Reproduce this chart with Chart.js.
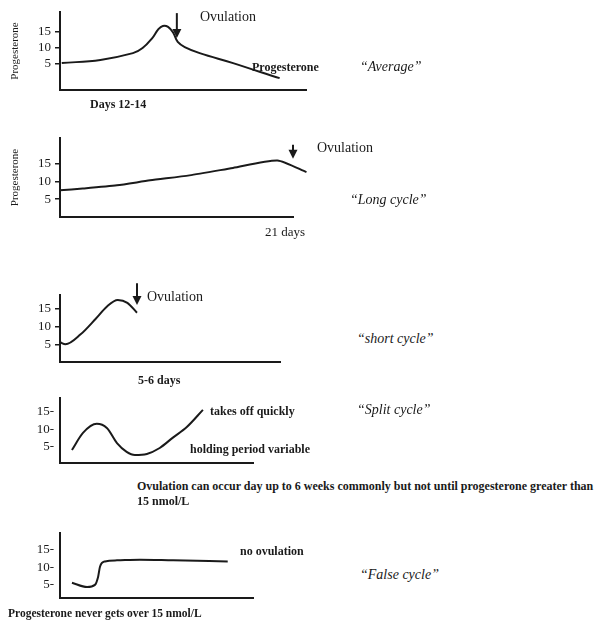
<!DOCTYPE html>
<html>
<head>
<meta charset="utf-8">
<script src="https://cdn.jsdelivr.net/npm/chart.js@4"></script>
<style>
  html,body{margin:0;padding:0;background:#fff;}
  #wrap{position:relative;width:600px;height:621px;overflow:hidden;background:#fff;}
  canvas{position:absolute;left:0;}
  .t{position:absolute;white-space:nowrap;line-height:1;color:#1a1a1a;font-family:'Liberation Serif','Times New Roman',serif;}
</style>
</head>
<body>
<div id="wrap"></div>
<script>
// ---------- DATA (days vs progesterone, nmol/L) ----------
const yTicks = [5, 10, 15];

// Panel 1: "Average"
const avgDays = [0.2, 4.6, 8.3, 9.4, 10.5, 11.2, 11.7, 12.3, 12.9, 13.4, 14.2, 15.9, 19.7, 22.8, 25.0];
const avgProg = [5.3, 6.3, 8.4, 10.0, 13.1, 15.9, 16.9, 16.6, 14.7, 11.9, 10.3, 8.4, 5.3, 2.5, 0.6];
const avgOvulationDay = 13.3;

// Panel 2: "Long cycle"
const longDays = [0, 2.2, 5.5, 8.7, 12.5, 16.7, 21.0, 23.8];
const longProg = [7.5, 8.0, 8.9, 10.3, 11.7, 13.8, 15.9, 12.6];
const longOvulationDay = 22.5;

// Panel 3: "short cycle"
const shortDays = [0, 0.4, 1.5, 2.6, 3.4, 4.2, 4.9, 5.6];
const shortProg = [5.6, 5.0, 7.8, 12.2, 15.6, 17.5, 16.7, 13.9];
const shortOvulationDay = 5.6;

// Panel 4: "Split cycle"
const splitDays = [2.6, 5.0, 8.0, 10.2, 12.4, 14.5, 16.3, 18.9, 21.7, 24.5, 27.6, 31.1];
const splitProg = [4.1, 9.0, 11.6, 10.4, 6.1, 3.6, 2.7, 3.0, 4.7, 7.6, 10.7, 15.6];

// Panel 5: "False cycle"
const falseDays = [2.6, 5.9, 7.6, 8.3, 8.7, 9.8, 12.4, 17.4, 24.6, 36.5];
const falseProg = [5.6, 4.4, 5.0, 7.3, 10.1, 11.6, 11.9, 12.1, 11.9, 11.6];

// ---------- rendering ----------
const INK = '#1a1a1a';
const FONT = "'Liberation Serif', 'Times New Roman', serif";

const arrowPlugin = {
  id: 'ovArrow',
  afterDatasetsDraw(chart, args, opts) {
    if (!opts || opts.x === undefined) return;
    const {ctx, scales: {x, y}} = chart;
    const px = x.getPixelForValue(opts.x);
    const yTop = y.getPixelForValue(opts.from);
    const yTip = y.getPixelForValue(opts.to);
    const headLen = 9, headHalf = 4.5;
    ctx.save();
    ctx.strokeStyle = INK; ctx.fillStyle = INK; ctx.lineWidth = 2;
    ctx.beginPath(); ctx.moveTo(px, yTop); ctx.lineTo(px, yTip - headLen + 1); ctx.stroke();
    ctx.beginPath(); ctx.moveTo(px - headHalf, yTip - headLen); ctx.lineTo(px + headHalf, yTip - headLen); ctx.lineTo(px, yTip); ctx.closePath(); ctx.fill();
    ctx.restore();
  }
};

function makePanel(cfg) {
  const c = document.createElement('canvas');
  c.width = cfg.w; c.height = cfg.h;
  c.style.top = cfg.top + 'px';
  document.getElementById('wrap').appendChild(c);
  const pts = cfg.xs.map((d, i) => ({x: d, y: cfg.ys[i]}));
  new Chart(c, {
    type: 'line',
    data: {datasets: [{data: pts, borderColor: INK, borderWidth: 2, pointRadius: 0,
      fill: false, clip: false, tension: cfg.tension, cubicInterpolationMode: cfg.mono ? 'monotone' : 'default'}]},
    options: {
      responsive: false, animation: false, devicePixelRatio: 1,
      layout: {padding: {top: cfg.padTop, bottom: cfg.padBottom, right: cfg.padRight, left: 0}},
      plugins: {legend: {display: false}, tooltip: {enabled: false},
        ovArrow: cfg.arrow || {}},
      scales: {
        x: {type: 'linear', min: 0, max: cfg.xMax,
          ticks: {display: false}, grid: {display: false, drawTicks: false},
          border: {display: true, color: INK, width: 2},
          afterFit: s => { s.height = 0; }},
        y: {type: 'linear', min: cfg.yMin, max: cfg.yMax,
          afterBuildTicks: s => { s.ticks = yTicks.map(v => ({value: v})); },
          ticks: {color: INK, font: {family: FONT, size: 13}, padding: cfg.dash ? 6 : 4,
            callback: v => cfg.dash ? v + '-' : String(v)},
          grid: {drawOnChartArea: false, drawTicks: !cfg.dash, tickLength: 5, color: INK, lineWidth: 1.5},
          border: {display: true, color: INK, width: 2},
          title: {display: !!cfg.yTitle, text: cfg.yTitle || '', color: INK,
            font: {family: FONT, size: 11}, padding: {top: 9, bottom: 0}},
          afterFit: s => { s.width = 60; }}
      }
    },
    plugins: [arrowPlugin]
  });
}

makePanel({top: -4, w: 330, h: 110, padTop: 16, padBottom: 16, padRight: 24,
  xs: avgDays, ys: avgProg, xMax: 28, yMin: -3.1, yMax: 21.25, tension: 0.4, mono: false,
  yTitle: 'Progesterone', arrow: {x: avgOvulationDay, from: 20.9, to: 13.1}});
makePanel({top: 122, w: 330, h: 111, padTop: 16, padBottom: 16, padRight: 37,
  xs: longDays, ys: longProg, xMax: 22.5, yMin: 0, yMax: 22.2, tension: 0.2, mono: false,
  yTitle: 'Progesterone', arrow: {x: longOvulationDay, from: 20.3, to: 16.4}});
makePanel({top: 279, w: 330, h: 99, padTop: 16, padBottom: 16, padRight: 50,
  xs: shortDays, ys: shortProg, xMax: 16, yMin: 0, yMax: 18.9, tension: 0.4, mono: true,
  arrow: {x: shortOvulationDay, from: 22.2, to: 16.1}});
makePanel({top: 382, w: 330, h: 97, padTop: 16, padBottom: 16, padRight: 77, dash: true,
  xs: splitDays, ys: splitProg, xMax: 42, yMin: 0.4, yMax: 19, tension: 0.4, mono: true});
makePanel({top: 517, w: 330, h: 97, padTop: 16, padBottom: 16, padRight: 77, dash: true,
  xs: falseDays, ys: falseProg, xMax: 42, yMin: 1.3, yMax: 19.6, tension: 0.4, mono: true});

// ---------- text annotations ----------
const labels = [
  ['Ovulation', 200, 22, 14, 'normal', 'normal'],
  ['Progesterone', 252, 71, 12, 'bold', 'normal'],
  ['\u201CAverage\u201D', 360, 72, 14, 'normal', 'italic'],
  ['Days 12-14', 90, 108, 12, 'bold', 'normal'],
  ['Ovulation', 317, 153, 14, 'normal', 'normal'],
  ['\u201CLong cycle\u201D', 350, 205, 14, 'normal', 'italic'],
  ['21 days', 265, 236, 13, 'normal', 'normal'],
  ['Ovulation', 147, 302, 14, 'normal', 'normal'],
  ['\u201Cshort cycle\u201D', 357, 344, 14, 'normal', 'italic'],
  ['5-6 days', 138, 384, 12, 'bold', 'normal'],
  ['takes off quickly', 210, 415, 12, 'bold', 'normal'],
  ['\u201CSplit cycle\u201D', 357, 415, 14, 'normal', 'italic'],
  ['holding period variable', 190, 453, 12, 'bold', 'normal'],
  ['Ovulation can occur day up to 6 weeks commonly but not until progesterone greater than', 137, 490, 12, 'bold', 'normal'],
  ['15 nmol/L', 137, 505, 12, 'bold', 'normal'],
  ['no ovulation', 240, 555, 12, 'bold', 'normal'],
  ['\u201CFalse cycle\u201D', 360, 580, 14, 'normal', 'italic'],
  ['Progesterone never gets over 15 nmol/L', 8, 618, 11.5, 'bold', 'normal']
];
const wrap = document.getElementById('wrap');
labels.forEach(([txt, x, base, size, weight, style]) => {
  const d = document.createElement('div');
  d.className = 't';
  d.textContent = txt;
  d.style.left = x + 'px';
  d.style.top = (base - 0.8375 * size) + 'px';
  d.style.fontSize = size + 'px';
  d.style.fontWeight = weight;
  d.style.fontStyle = style;
  wrap.appendChild(d);
});
</script>
</body>
</html>
